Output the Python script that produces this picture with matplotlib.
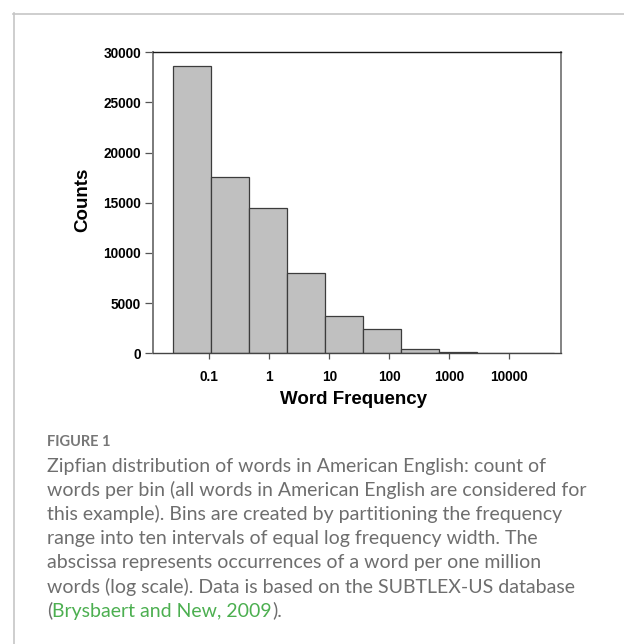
import matplotlib
matplotlib.use("Agg")
import matplotlib.pyplot as plt
from matplotlib.lines import Line2D
import numpy as np

# Histogram of word frequencies (occurrences per million words, log bins)
bin_edges_log10 = [-1.61, -0.975, -0.34, 0.295, 0.93, 1.565, 2.20, 2.835, 3.47, 4.105, 4.74]
counts = [28600, 17550, 14500, 7980, 3720, 2390, 460, 150, 60, 10]

x_ticks = [0.1, 1, 10, 100, 1000, 10000]
x_tick_labels = ["0.1", "1", "10", "100", "1000", "10000"]
y_ticks = [0, 5000, 10000, 15000, 20000, 25000, 30000]

caption_head = "FIGURE 1"
caption_lines = [
    "Zipfian distribution of words in American English: count of",
    "words per bin (all words in American English are considered for",
    "this example). Bins are created by partitioning the frequency",
    "range into ten intervals of equal log frequency width. The",
    "abscissa represents occurrences of a word per one million",
    "words (log scale). Data is based on the SUBTLEX-US database",
]
citation_parts = [("(", "#6e6e6e"), ("Brysbaert and New, 2009", "#4caf50"), (").", "#6e6e6e")]

W, H = 624, 644
fig = plt.figure(figsize=(W / 100, H / 100), dpi=100)
fig.patch.set_facecolor("white")

def fx(px):
    return px / W

def fy(py):
    return 1 - py / H

# panel frame (top and left edges)
fig.add_artist(Line2D([fx(13), 1.0], [fy(13.5), fy(13.5)], color="#c6c6c6", lw=1.2,
                      transform=fig.transFigure))
fig.add_artist(Line2D([fx(13.5), fx(13.5)], [fy(13), 0.0], color="#c6c6c6", lw=1.2,
                      transform=fig.transFigure))

ax_l, ax_r, ax_t, ax_b = 153.3, 561.0, 52.3, 353.3
ax = fig.add_axes([fx(ax_l), fy(ax_b), fx(ax_r - ax_l), (ax_b - ax_t) / H])

edges = 10.0 ** np.array(bin_edges_log10)
lefts = edges[:-1]
widths = edges[1:] - edges[:-1]
ax.bar(lefts, counts, width=widths, align="edge", color="#c0c0c0",
       edgecolor="#3c3c3c", linewidth=0.9, zorder=2)

ax.set_xscale("log")
ax.set_xlim(10 ** -1.933, 10 ** 4.862)
ax.set_ylim(0, 30000)
ax.xaxis.set_minor_locator(matplotlib.ticker.NullLocator())
ax.set_xticks(x_ticks)
ax.set_xticklabels(x_tick_labels)
ax.set_yticks(y_ticks)
ax.set_yticklabels([str(v) for v in y_ticks])

for lbl in ax.get_xticklabels() + ax.get_yticklabels():
    lbl.set_fontfamily("Liberation Sans")
    lbl.set_fontweight("bold")
    lbl.set_fontsize(9.8)
    lbl.set_color("black")

ax.tick_params(axis="y", direction="out", length=5.5, width=0.9, color="#555555", pad=3.5)
ax.tick_params(axis="x", direction="out", length=4, width=0.9, color="#555555", pad=8)

ax.spines["top"].set_color("#1a1a1a")
ax.spines["top"].set_linewidth(1.0)
ax.spines["left"].set_color("#7a7a7a")
ax.spines["left"].set_linewidth(1.4)
ax.spines["right"].set_color("#7a7a7a")
ax.spines["right"].set_linewidth(1.3)
ax.spines["bottom"].set_color("#444444")
ax.spines["bottom"].set_linewidth(1.0)

fig.text(fx(83), fy(200), "Counts", rotation=90, ha="center", va="center",
         family="Liberation Sans", weight="bold", size=13.5)
fig.text(fx(354), fy(400), "Word Frequency", ha="center", va="center",
         family="Liberation Sans", weight="bold", size=13.5)

# caption
cap_x = 47
fig.text(fx(cap_x), fy(442), caption_head, ha="left", va="center",
         family="Lato", weight="bold", size=10.5, color="#777777")
base_y0, line_step = 472.0, 24.1
cap_font = dict(family="Lato", size=14.0)
for i, line in enumerate(caption_lines):
    fig.text(fx(cap_x), fy(base_y0 + i * line_step), line, ha="left", va="baseline",
             color="#6e6e6e", **cap_font)

renderer = fig.canvas.get_renderer()
x_cur = cap_x
y_last = base_y0 + len(caption_lines) * line_step
for part, col in citation_parts:
    t = fig.text(fx(x_cur), fy(y_last), part, ha="left", va="baseline", color=col, **cap_font)
    ext = t.get_window_extent(renderer)
    x_cur = ext.x1

fig.savefig("out.png", dpi=100)
